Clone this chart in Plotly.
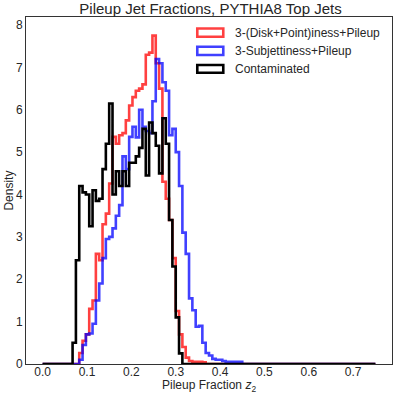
import numpy as np
import plotly.graph_objects as go

# ---- data (densities per bin, 100 bins over [0, 0.75]) ----
n_bins = 100
hist_range = (0.0, 0.75)

series_names = ["3-(Disk+Point)iness+Pileup", "3-Subjettiness+Pileup", "Contaminated"]

# first non-empty bin index and the densities that follow
red_first_bin = 11
red_values = [0.26, 0.55, 0.7, 1.3, 1.5, 2.6, 2.45, 3.3, 3.55, 4.26,
              5.36, 5.2, 5.4, 5.45, 5.75, 6.1, 6.3, 6.45, 6.5, 6.6,
              7.3, 7.35, 7.75, 7.1, 6.5, 4.3, 3.9, 3.4, 2.5, 1.25,
              0.7, 0.4, 0.15, 0.07, 0.05, 0.05, 0.05, 0.04]

blue_first_bin = 11
blue_values = [0.1, 0.45, 0.7, 0.72, 0.95, 1.5, 1.9, 2.5, 2.95, 3.0,
               3.2, 3.5, 3.75, 4.9, 4.6, 5.36, 5.6, 5.35, 6.0, 5.6,
               5.5, 5.45, 6.2, 7.2, 7.1, 6.65, 6.45, 5.4, 5.55, 5.0,
               4.2, 3.1, 2.6, 1.55, 1.27, 0.88, 0.9, 0.5, 0.26, 0.2,
               0.12, 0.1, 0.1, 0.07, 0.05, 0.05, 0.05, 0.05, 0.05]

black_first_bin = 9
black_values = [0.5, 2.45, 4.2, 4.05, 4.0, 3.25, 4.1, 3.85, 3.9, 4.6,
                5.2, 6.15, 4.0, 4.55, 4.2, 4.55, 4.2, 4.75, 4.75, 4.9,
                5.1, 5.55, 4.45, 5.7, 5.45, 5.15, 4.5, 5.8, 5.2, 3.4,
                2.3, 1.1, 0.25]

x_ticks = [0.0, 0.1, 0.2, 0.3, 0.4, 0.5, 0.6, 0.7]
y_ticks = [0, 1, 2, 3, 4, 5, 6, 7, 8]

# ---- build ----
edges = np.linspace(hist_range[0], hist_range[1], n_bins + 1)


def full_hist(first, vals):
    h = np.zeros(n_bins)
    h[first:first + len(vals)] = vals
    return h


def step_xy(h):
    x = np.concatenate([[edges[0]], edges, [edges[-1]]])
    y = np.concatenate([[0.0], h, [h[-1]], [0.0]])
    return x, y


colors = ["rgba(255,0,0,0.75)", "rgba(0,0,255,0.75)", "rgba(0,0,0,1)"]
hists = [full_hist(red_first_bin, red_values),
         full_hist(blue_first_bin, blue_values),
         full_hist(black_first_bin, black_values)]

fig = go.Figure()
for name, h, c in zip(series_names, hists, colors):
    x, y = step_xy(h)
    fig.add_trace(go.Scatter(x=x, y=y, mode="lines", name=name,
                             line=dict(color=c, width=2.6, shape="hv"),
                             showlegend=False, hoverinfo="skip"))

font_family = "Liberation Sans, Arial, sans-serif"
txt_color = "#262626"

# manual legend (outlined patches like matplotlib)
leg_rows = [(0.943, 0.967, 0.9553), (0.8905, 0.9144, 0.9023), (0.8395, 0.8617, 0.8505)]
for (y0, y1, yt), name, c in zip(leg_rows, series_names, colors):
    fig.add_shape(type="rect", xref="paper", yref="paper",
                  x0=0.468, x1=0.539, y0=y0, y1=y1,
                  line=dict(color=c, width=2.6), fillcolor="rgba(0,0,0,0)")
    fig.add_annotation(xref="paper", yref="paper", x=0.5664, y=yt,
                       text=name, showarrow=False, xanchor="left", yanchor="middle",
                       font=dict(size=12, color=txt_color, family=font_family))

# axis titles as annotations
fig.add_annotation(xref="paper", yref="paper", x=0.5, y=-0.064,
                   text="Pileup Fraction <i>z</i><sub>2</sub>", showarrow=False,
                   xanchor="center", yanchor="middle",
                   font=dict(size=12, color=txt_color, family=font_family))
fig.add_annotation(xref="paper", yref="paper", x=-0.049, y=0.5,
                   text="Density", showarrow=False, textangle=-90,
                   xanchor="center", yanchor="middle",
                   font=dict(size=12, color=txt_color, family=font_family))

fig.update_layout(
    width=395, height=395,
    margin=dict(l=26, r=3, t=17, b=31, autoexpand=False),
    paper_bgcolor="white", plot_bgcolor="white",
    font=dict(family=font_family, size=12, color=txt_color),
    title=dict(text="Pileup Jet Fractions, PYTHIA8 Top Jets", x=0.533, xanchor="center",
               y=0.979, yanchor="middle", font=dict(size=15, color=txt_color)),
    showlegend=False,
)
fig.update_xaxes(range=[-0.0375, 0.7875], tickvals=x_ticks, tickformat=".1f",
                 showgrid=False, zeroline=False, showline=True, mirror=True,
                 linecolor="#333333", linewidth=1, ticks="", ticklen=0,
                 automargin=False, ticklabelstandoff=-3)
fig.update_yaxes(range=[0, 8.19], tickvals=y_ticks,
                 showgrid=False, zeroline=False, showline=True, mirror=True,
                 linecolor="#333333", linewidth=1, ticks="", ticklen=0,
                 automargin=False)

fig.write_html("out.html", config={"displayModeBar": False},
               post_script="document.body.style.margin='0px';document.body.style.padding='0px';")
